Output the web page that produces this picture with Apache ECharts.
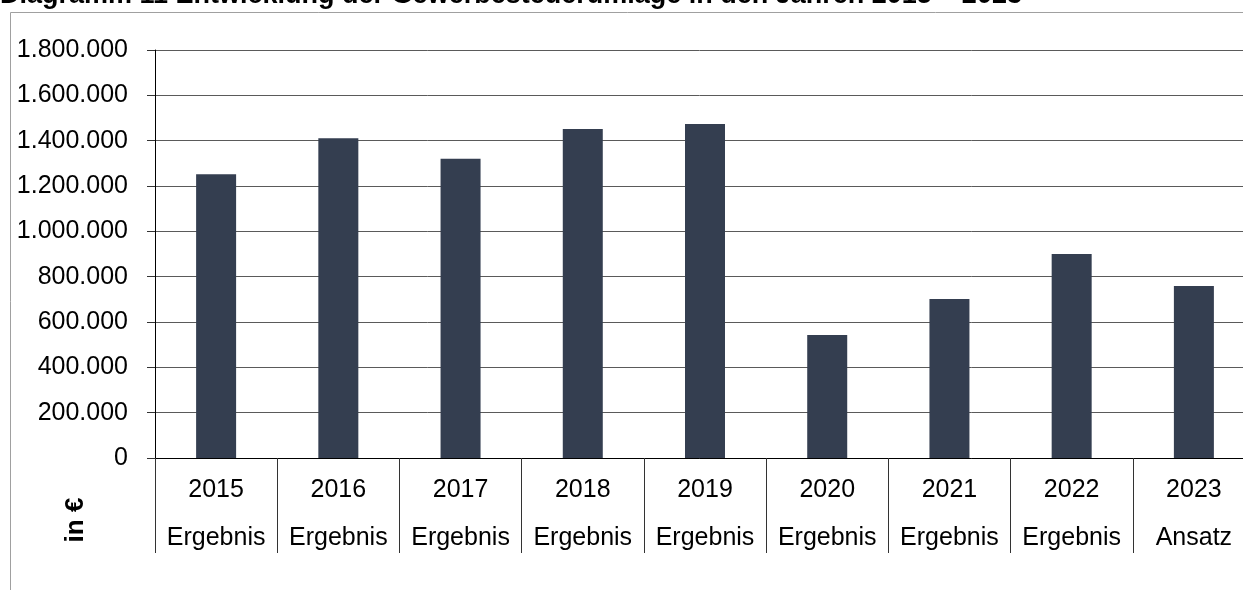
<!DOCTYPE html>
<html>
<head>
<meta charset="utf-8">
<script src="https://cdn.jsdelivr.net/npm/echarts@6/dist/echarts.min.js"></script>
<style>
  html, body { margin: 0; padding: 0; background: #fff; }
  #container { width: 1243px; height: 590px; }
</style>
</head>
<body>
<div id="container"></div>
<script>
var years = ['2015', '2016', '2017', '2018', '2019', '2020', '2021', '2022', '2023'];
var kinds = ['Ergebnis', 'Ergebnis', 'Ergebnis', 'Ergebnis', 'Ergebnis', 'Ergebnis', 'Ergebnis', 'Ergebnis', 'Ansatz'];
var umlage = [1252000, 1411000, 1320000, 1451000, 1473000, 543000, 701000, 900000, 759000];

function dotted(v) {
    return String(v).replace(/\B(?=(\d{3})+(?!\d))/g, '.');
}

var myChart = echarts.init(document.getElementById('container'));
var option = {
    animation: false,
    textStyle: { fontFamily: 'Liberation Sans, Arial, sans-serif' },
    title: {
        text: 'Diagramm 11 Entwicklung der Gewerbesteuerumlage in den Jahren 2015 \u2013 2023',
        left: 0,
        top: -18,
        padding: 0,
        textStyle: { fontSize: 27, fontWeight: 'bold', color: '#000', fontFamily: 'Liberation Sans, Arial, sans-serif' }
    },
    graphic: [
        {
            type: 'rect',
            shape: { x: 10.5, y: 12.5, width: 1300, height: 700 },
            style: { fill: 'none', stroke: '#a0a0a0', lineWidth: 1 },
            silent: true
        },
        {
            type: 'text',
            x: 76,
            y: 520,
            rotation: Math.PI / 2,
            style: {
                text: 'in \u20ac',
                fontSize: 26,
                fontWeight: 'bold',
                fill: '#000',
                fontFamily: 'Liberation Sans, Arial, sans-serif',
                align: 'center',
                verticalAlign: 'middle'
            }
        }
    ],
    grid: { left: 155, top: 50, width: 1100, bottom: 132, containLabel: false, outerBoundsMode: 'none' },
    xAxis: {
        type: 'category',
        data: years,
        axisLine: { lineStyle: { color: '#000', width: 1 } },
        axisTick: { show: true, interval: 0, length: 95, lineStyle: { color: '#333' } },
        axisLabel: {
            interval: 0,
            margin: 8,
            fontSize: 25,
            color: '#000',
            lineHeight: 48,
            formatter: function (v, i) { return v + '\n' + kinds[i]; }
        }
    },
    yAxis: {
        type: 'value',
        min: 0,
        max: 1800000,
        interval: 200000,
        axisLine: { show: true, lineStyle: { color: '#000' } },
        axisTick: { show: true, length: 8, lineStyle: { color: '#333' } },
        splitLine: { lineStyle: { color: '#5a5a5a', width: 1 } },
        axisLabel: {
            margin: 27,
            fontSize: 25,
            color: '#000',
            formatter: function (v) { return dotted(v); }
        }
    },
    series: [
        {
            type: 'bar',
            data: umlage,
            barWidth: 40,
            itemStyle: { color: '#343e50' }
        }
    ]
};
myChart.setOption(option);
</script>
</body>
</html>
